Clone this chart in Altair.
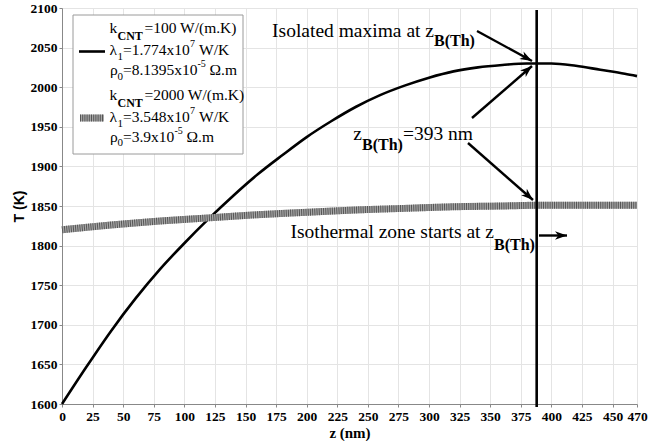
import math
import altair as alt
import pandas as pd

# ---------------- data ----------------
z_k100 = [0, 20, 40, 60, 80, 100, 120, 140, 160, 180, 200, 220, 240, 260,
          280, 300, 320, 340, 360, 380, 390, 400, 420, 440, 460, 470]
T_k100 = [1600, 1647, 1692, 1733, 1770, 1803, 1834, 1863, 1890, 1914, 1937,
          1957, 1975, 1990, 2002, 2012, 2020, 2025, 2028, 2030, 2030, 2030,
          2027, 2022, 2017, 2014]
z_k2000 = [0, 40, 80, 120, 160, 200, 240, 280, 320, 360, 390, 430, 470]
T_k2000 = [1820, 1826, 1831, 1835, 1839, 1842, 1845, 1847, 1849, 1850, 1851,
           1851, 1851]
z_bth = 388            # where the z_B(Th) marker line is drawn
x_ticks = [0, 25, 50, 75, 100, 125, 150, 175, 200, 225, 250, 275, 300, 325,
           350, 375, 400, 425, 450, 470]
y_ticks = [1600, 1650, 1700, 1750, 1800, 1850, 1900, 1950, 2000, 2050, 2100]

# ---------------- layout ----------------
PL, PT, W, H = 62, 8, 575, 396
ZMAX, TMIN, TMAX = 470, 1600, 2100


def dz(px):
    return (px - PL) / W * ZMAX


def dT(py):
    return TMAX - (py - PT) / H * (TMAX - TMIN)


SERIF = "Liberation Serif"
xs = alt.Scale(domain=[0, ZMAX], nice=False, zero=False)
ys = alt.Scale(domain=[TMIN, TMAX], nice=False, zero=False)
xaxis = alt.Axis(values=x_ticks, format="d", title="z (nm)", labelFont=SERIF,
                 labelFontSize=13.5, labelFontWeight="bold", labelColor="black",
                 labelFlush=False, labelOverlap=False, labelPadding=2, tickSize=3,
                 tickColor="#888", domainColor="#888", gridColor="#e4e4e4", grid=True,
                 titleFont=SERIF, titleFontSize=15, titleFontWeight="bold",
                 titleColor="black", titlePadding=3)
yaxis = alt.Axis(values=y_ticks, format="d", title="T (K)", labelFont=SERIF,
                 labelFontSize=13.5, labelFontWeight="bold", labelColor="black",
                 labelFlush=False, labelOverlap=False, labelPadding=2, tickSize=3,
                 tickColor="#888", domainColor="#888", gridColor="#e4e4e4", grid=True,
                 titleFont="Liberation Sans", titleFontSize=14, titleFontWeight="bold",
                 titleColor="black", titlePadding=4)

X = alt.X("z:Q", scale=xs, axis=xaxis)
Y = alt.Y("T:Q", scale=ys, axis=yaxis)

df100 = pd.DataFrame({"z": z_k100, "T": T_k100})
df2000 = pd.DataFrame({"z": z_k2000, "T": T_k2000})

black = alt.Chart(df100).mark_line(color="black", strokeWidth=2.6,
                                   interpolate="monotone").encode(x=X, y=Y)
gray_base = alt.Chart(df2000).mark_line(color="#a8a8a8", strokeWidth=7,
                                        interpolate="monotone").encode(x=X, y=Y)
gray_str = alt.Chart(df2000).mark_line(color="#555555", strokeWidth=7,
                                       strokeDash=[1, 1.2], strokeCap="butt",
                                       interpolate="monotone").encode(x=X, y=Y)

vline = alt.Chart(pd.DataFrame({"z": [z_bth], "T": [dT(10)], "T2": [dT(407)]})).mark_rule(
    color="black", strokeWidth=2.6).encode(x=X, y=Y, y2="T2:Q")

# ---------------- legend ----------------
box = alt.Chart(pd.DataFrame({"z": [dz(73)], "z2": [dz(243)], "T": [dT(15)], "T2": [dT(154)]})
                ).mark_rect(fill="white", stroke="#9a9a9a", strokeWidth=1).encode(
    x=X, x2="z2:Q", y=Y, y2="T2:Q")
leg_black = alt.Chart(pd.DataFrame({"z": [dz(79)], "z2": [dz(105)], "T": [dT(51.5)]})
                      ).mark_rule(color="black", strokeWidth=2.6).encode(x=X, x2="z2:Q", y=Y)
leg_gray_b = alt.Chart(pd.DataFrame({"z": [dz(80)], "z2": [dz(104)], "T": [dT(118)]})
                       ).mark_rule(color="#a8a8a8", strokeWidth=7).encode(x=X, x2="z2:Q", y=Y)
leg_gray_s = alt.Chart(pd.DataFrame({"z": [dz(80)], "z2": [dz(104)], "T": [dT(118)]})
                       ).mark_rule(color="#555555", strokeWidth=7, strokeDash=[1, 1.2],
                                   strokeCap="butt").encode(x=X, x2="z2:Q", y=Y)

left_normal = [
    ("k", 109.5, 33, 15.5), ("=100 W/(m.K)", 144.5, 33, 15.5),
    ("λ", 109.5, 55, 15.5), ("1", 117.5, 60, 11), ("=1.774x10", 123, 55, 15.5),
    ("7", 190, 47, 10), ("W/K", 199, 55, 15.5),
    ("ρ", 110, 75, 15.5), ("0", 117.5, 79.5, 11), ("=8.1395x10", 123, 75, 15.5),
    ("-5", 197.5, 67, 10), ("Ω.m", 209.5, 75, 15.5),
    ("k", 109.5, 100, 15.5), ("=2000 W/(m.K)", 144.5, 100, 15.5),
    ("λ", 109.5, 121.5, 15.5), ("1", 117.5, 126.5, 11), ("=3.548x10", 123, 121.5, 15.5),
    ("7", 190, 113.5, 10), ("W/K", 199, 121.5, 15.5),
    ("ρ", 110, 141.5, 15.5), ("0", 117.5, 146, 11), ("=3.9x10", 123, 141.5, 15.5),
    ("-5", 174.5, 133.5, 10), ("Ω.m", 186.5, 141.5, 15.5),
    ("=393 nm", 403, 140, 19.5),
]
bold_left = [
    ("CNT", 117.5, 40, 12), ("CNT", 117.5, 107, 12),
    ("B(Th)", 434, 45.5, 16), ("B(Th)", 362, 150, 16), ("B(Th)", 494, 250, 16),
]
right_normal = [
    ("Isolated maxima at z", 434, 36.5, 19.5),
    ("z", 362, 140, 19.5),
    ("Isothermal zone starts at z", 494, 238, 19.5),
]


def tdf(rows):
    return pd.DataFrame({"text": [r[0] for r in rows], "z": [dz(r[1]) for r in rows],
                         "T": [dT(r[2]) for r in rows], "size": [r[3] for r in rows]})


def text_layer(rows, align, weight):
    return alt.Chart(tdf(rows)).mark_text(align=align, baseline="alphabetic", font=SERIF,
                                          fontWeight=weight, color="black").encode(
        x=X, y=Y, text="text:N", size=alt.Size("size:Q", scale=None))


t1 = text_layer(left_normal, "left", "normal")
t2 = text_layer(bold_left, "left", "bold")
t3 = text_layer(right_normal, "right", "normal")

# ---------------- arrows ----------------
arrows_px = [((477, 31), (532, 61)), ((472, 118), (532, 66)),
             ((468, 143), (533, 200)), ((539, 235.5), (567, 235.5))]
adf = pd.DataFrame({
    "z": [dz(a[0][0]) for a in arrows_px], "T": [dT(a[0][1]) for a in arrows_px],
    "z2": [dz(a[1][0]) for a in arrows_px], "T2": [dT(a[1][1]) for a in arrows_px],
    "zt": [dz(a[1][0]) for a in arrows_px], "Tt": [dT(a[1][1]) for a in arrows_px],
    "angle": [math.degrees(math.atan2(a[1][1] - a[0][1], a[1][0] - a[0][0])) % 360
              for a in arrows_px],
})
shafts = alt.Chart(adf).mark_rule(color="black", strokeWidth=2.4).encode(
    x=X, y=Y, x2="z2:Q", y2="T2:Q")
heads = alt.Chart(adf).mark_point(shape="M0,0L-1,-0.36L-0.72,0L-1,0.36Z", filled=True,
                                  color="black", opacity=1, size=576).encode(
    x=alt.X("zt:Q", scale=xs, axis=xaxis), y=alt.Y("Tt:Q", scale=ys, axis=yaxis),
    angle=alt.Angle("angle:Q", scale=None))

chart = alt.layer(black, gray_base, gray_str, vline, box, leg_black, leg_gray_b,
                  leg_gray_s, t1, t2, t3, shafts, heads).properties(
    width=W, height=H, autosize=alt.AutoSizeParams(type="none"),
    padding={"left": PL, "top": PT, "right": 649 - PL - W, "bottom": 441 - PT - H},
    background="white",
).configure_view(stroke=None)

chart.save("out.html", embed_options={"renderer": "svg", "actions": False})
